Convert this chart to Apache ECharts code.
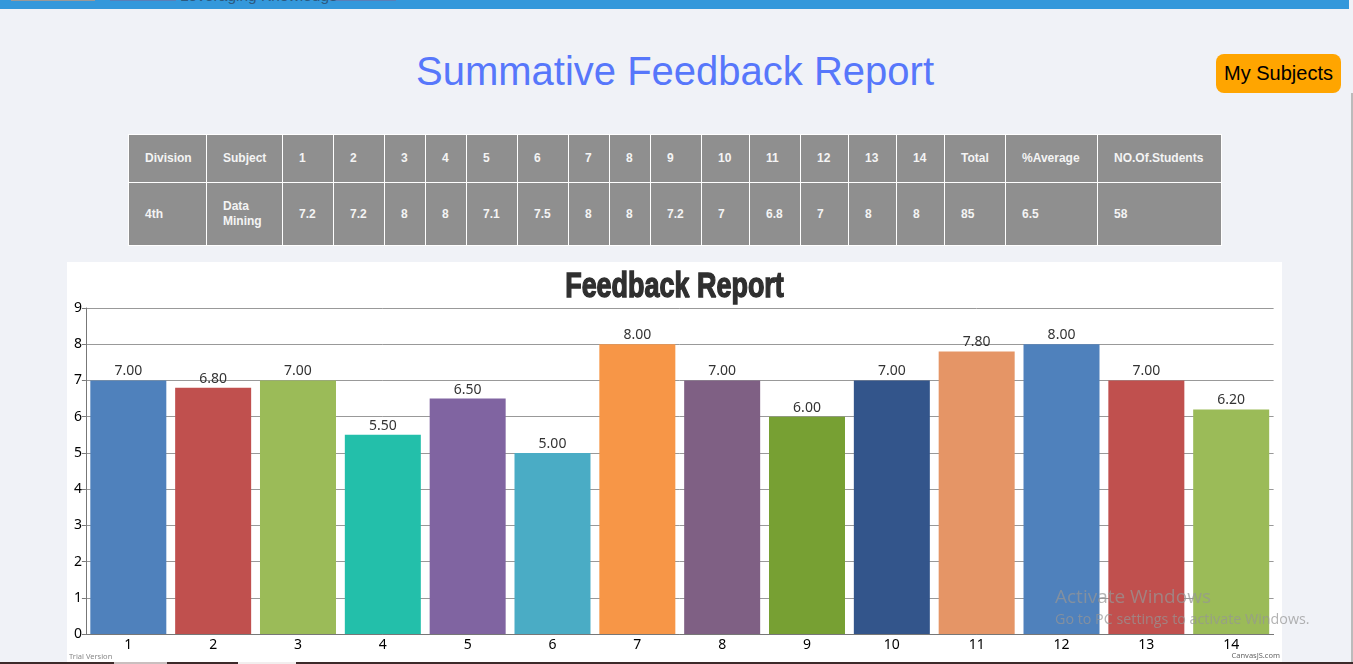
<!DOCTYPE html>
<html>
<head>
<meta charset="utf-8">
<script src="https://cdn.jsdelivr.net/npm/echarts@6/dist/echarts.min.js"></script>
<style>
html,body{margin:0;padding:0;width:1353px;height:664px;overflow:hidden;background:#f0f2f7;font-family:"Liberation Sans",Arial,sans-serif}
.abs{position:absolute}
#topbar{left:0;top:0;width:1349px;height:9px;background:#3498db;overflow:hidden}
#heading{left:0;top:46px;width:1350px;text-align:center;font-size:40px;line-height:50px;color:#5777fb}
#btn{left:1216px;top:54px;width:125px;height:39px;background:#ffa500;border-radius:8px;color:#000;font-size:20px;line-height:39px;text-align:center}
#scroll{left:1351px;top:93px;width:2px;height:569px;background:#bbb}
#tbl{left:128px;top:134px;border-collapse:collapse;table-layout:fixed;width:1093px;color:#f4f4f4;font-size:12px;font-weight:bold;background:#8f8f8f}
#tbl td{border:1px solid #fff;padding:0 0 0 16px;box-sizing:border-box;line-height:15px}
#chart{left:67px;top:262px;width:1215px;height:400px;background:#fff}
#bottom{left:0;top:662px;width:1353px;height:2px;background:#3c2a2a}
.wm{color:rgba(150,150,150,.72);white-space:nowrap;font-family:"Open Sans",sans-serif}
</style>
</head>
<body>
<div class="abs" id="topbar">
  <div class="abs" style="left:11px;top:0;width:84px;height:1px;background:#999"></div>
  <div class="abs" style="left:110px;top:0;width:66px;height:1px;background:#5a7fb8"></div>
  <div class="abs" style="left:330px;top:0;width:66px;height:1px;background:#5a7fb8"></div>
  <div class="abs" style="left:180px;top:-12px;font-size:15.5px;line-height:16px;color:#2c5a80;white-space:nowrap">Leveraging Knowledge</div>
</div>
<div class="abs" id="heading">Summative Feedback Report</div>
<div class="abs" id="btn">My Subjects</div>
<div class="abs" id="scroll"></div>
<table class="abs" id="tbl"></table>
<div class="abs" id="chart"></div>
<div class="abs" id="bottom">
  <div class="abs" style="left:114px;top:0;width:53px;height:2px;background:#c9bfbf"></div>
  <div class="abs" style="left:238px;top:0;width:58px;height:2px;background:#f2eeee"></div>
</div>
<div class="abs wm" style="left:1055px;top:583px;font-size:19px">Activate Windows</div>
<div class="abs wm" style="left:1055px;top:609px;font-size:14.3px">Go to PC settings to activate Windows.</div>
<script>
var categories = ['1','2','3','4','5','6','7','8','9','10','11','12','13','14'];
var values = [7, 6.8, 7, 5.5, 6.5, 5, 8, 7, 6, 7, 7.8, 8, 7, 6.2];
var barColors = ['#4f81bc','#c0504e','#9bbb58','#23bfaa','#8064a1','#4aacc5','#f79647','#7f6084','#77a033','#33558b','#e59566','#4f81bc','#c0504e','#9bbb58'];
var yTicks = [0,1,2,3,4,5,6,7,8,9];
var tableHead = ['Division','Subject','1','2','3','4','5','6','7','8','9','10','11','12','13','14','Total','%Average','NO.Of.Students'];
var tableRow = ['4th','Data Mining','7.2','7.2','8','8','7.1','7.5','8','8','7.2','7','6.8','7','8','8','85','6.5','58'];
var colWidths = [78,76,51,51,41,41,51,51,41,41,51,48,51,48,48,48,61,92,124];

var tbl = document.getElementById('tbl');
var cg = '<colgroup>' + colWidths.map(function(w){return '<col style="width:'+w+'px">';}).join('') + '</colgroup>';
function row(cells,h){return '<tr style="height:'+h+'px">'+cells.map(function(c){return '<td>'+c+'</td>';}).join('')+'</tr>';}
tbl.innerHTML = cg + row(tableHead,48) + row(tableRow,63);

var chart = echarts.init(document.getElementById('chart'), null, {renderer:'canvas'});
var labelFont = '"Noto Sans","DejaVu Sans",sans-serif';
chart.setOption({
  animation:false,
  backgroundColor:'#fff',
  title:[
    {text:'Trial Version',left:2,top:391,padding:0,textStyle:{fontSize:7.5,fontWeight:'normal',color:'#888',fontFamily:labelFont}},
    {text:'CanvasJS.com',right:2,top:390,padding:0,textStyle:{fontSize:7.5,fontWeight:'normal',color:'#666',fontFamily:labelFont}}
  ],
  graphic:[{type:'text',x:607.5,y:25,scaleX:0.77,
    style:{text:'Feedback Report',align:'center',verticalAlign:'middle',
      font:'bold 35px "Liberation Sans",sans-serif',fill:'#2f2f2f',stroke:'#2f2f2f',lineWidth:1.4}}],
  grid:{left:18.9,right:8.4,top:46,height:326,containLabel:false},
  xAxis:{type:'category',data:categories,
    axisLine:{lineStyle:{color:'#777',width:1}},
    axisTick:{alignWithLabel:true,length:2,lineStyle:{color:'#777'}},
    axisLabel:{color:'#000',fontSize:14,margin:4,fontFamily:labelFont},
    splitLine:{show:false}},
  yAxis:{type:'value',min:0,max:9,interval:1,
    axisLine:{show:true,lineStyle:{color:'#777',width:1}},
    axisTick:{show:true,length:4,lineStyle:{color:'#777'}},
    axisLabel:{color:'#000',fontSize:14,margin:4,fontFamily:labelFont,
      formatter:function(v){return yTicks.indexOf(v)>=0?String(v):'';}},
    splitLine:{show:true,lineStyle:{color:'#999',width:1}}},
  series:[{type:'bar',barWidth:76,
    data:values.map(function(v,i){return {value:v,itemStyle:{color:barColors[i]}};}),
    label:{show:true,position:'top',distance:2,color:'#333',fontSize:14,fontFamily:labelFont,
      formatter:function(p){return p.value.toFixed(2);}}}]
});
</script>
</body>
</html>
